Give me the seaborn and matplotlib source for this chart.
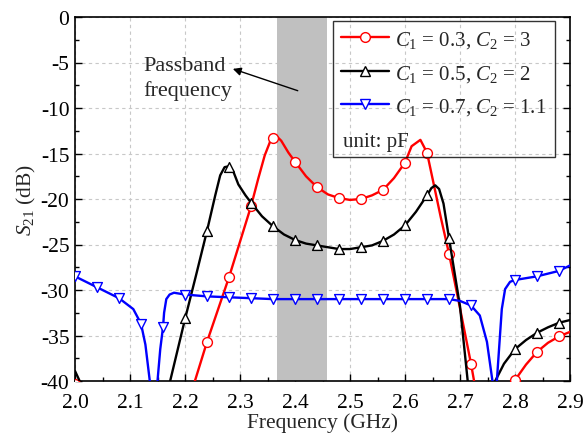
import numpy as np
import pandas as pd
import matplotlib
matplotlib.use("Agg")
import matplotlib.pyplot as plt
import seaborn as sns
from matplotlib.lines import Line2D
from matplotlib.ticker import MultipleLocator, FormatStrFormatter

# ---------------- data ----------------
series_labels = [r"$C_1$ = 0.3, $C_2$ = 3",
                 r"$C_1$ = 0.5, $C_2$ = 2",
                 r"$C_1$ = 0.7, $C_2$ = 1.1"]
series_colors = ["#ff0000", "#000000", "#0000ff"]
series_markers = ["o", "^", "v"]

# curve 1 (red) dense trace
red_f = [2.000, 2.030, 2.190, 2.218, 2.240, 2.280, 2.320, 2.333, 2.345, 2.356,
         2.365, 2.375, 2.388, 2.400, 2.420, 2.440, 2.460, 2.480, 2.500, 2.520,
         2.540, 2.560, 2.580, 2.600, 2.612, 2.628, 2.640, 2.652, 2.665, 2.680,
         2.700, 2.720, 2.730, 2.760, 2.790, 2.800, 2.820, 2.840, 2.860, 2.880, 2.900]
red_v = [-40.3, -48.0, -48.0, -40.0, -35.7, -28.6, -20.8, -17.8, -15.2, -13.5,
         -13.0, -13.6, -14.9, -15.9, -17.5, -18.7, -19.5, -19.9, -20.1, -20.0,
         -19.6, -19.0, -17.7, -16.0, -14.2, -13.5, -14.9, -18.3, -22.0, -26.0,
         -32.0, -38.1, -41.5, -50.0, -41.2, -39.9, -38.2, -36.8, -35.8, -35.1, -34.6]
red_mf = [2.00, 2.24, 2.28, 2.32, 2.36, 2.40, 2.44, 2.48, 2.52, 2.56, 2.60, 2.64,
          2.68, 2.72, 2.80, 2.84, 2.88]
red_mv = [-40.3, -35.7, -28.6, -20.8, -13.3, -15.9, -18.7, -19.9, -20.0, -19.0,
          -16.0, -14.9, -26.0, -38.1, -39.9, -36.8, -35.1]

# curve 2 (black)
blk_f = [2.000, 2.010, 2.030, 2.150, 2.173, 2.200, 2.220, 2.240, 2.255, 2.264,
         2.272, 2.280, 2.288, 2.297, 2.310, 2.320, 2.340, 2.360, 2.380, 2.400,
         2.420, 2.440, 2.460, 2.480, 2.500, 2.520, 2.540, 2.560, 2.580, 2.600,
         2.620, 2.640, 2.648, 2.655, 2.662, 2.670, 2.680, 2.700, 2.714, 2.730,
         2.750, 2.764, 2.780, 2.800, 2.820, 2.840, 2.860, 2.880, 2.900]
blk_v = [-38.9, -40.2, -46.0, -46.0, -40.0, -33.2, -28.4, -23.5, -19.6, -17.4,
         -16.5, -16.4, -17.0, -18.4, -19.6, -20.4, -21.9, -23.0, -23.9, -24.5,
         -24.9, -25.1, -25.3, -25.5, -25.5, -25.3, -25.1, -24.6, -23.9, -22.9,
         -21.4, -19.6, -18.8, -18.5, -18.9, -20.5, -24.3, -31.8, -40.0, -46.0,
         -46.0, -40.0, -38.1, -36.5, -35.5, -34.7, -34.1, -33.6, -33.3]
blk_mf = [2.20, 2.24, 2.28, 2.32, 2.36, 2.40, 2.44, 2.48, 2.52, 2.56, 2.60, 2.64,
          2.68, 2.80, 2.84, 2.88]
blk_mv = [-33.1, -23.5, -16.5, -20.4, -23.0, -24.5, -25.1, -25.5, -25.3, -24.6,
          -22.9, -19.6, -24.3, -36.5, -34.7, -33.6]

# curve 3 (blue)
blu_f = [2.000, 2.040, 2.080, 2.106, 2.120, 2.128, 2.136, 2.140, 2.145, 2.150,
         2.155, 2.160, 2.162, 2.166, 2.172, 2.180, 2.200, 2.240, 2.280, 2.320,
         2.360, 2.400, 2.440, 2.480, 2.520, 2.560, 2.600, 2.640, 2.680, 2.700,
         2.720, 2.736, 2.749, 2.759, 2.763, 2.767, 2.776, 2.782, 2.791, 2.800,
         2.840, 2.880, 2.900]
blu_v = [-28.5, -29.7, -30.9, -32.1, -33.7, -36.0, -40.0, -45.0, -45.0, -40.0,
         -36.5, -34.1, -32.5, -31.0, -30.5, -30.3, -30.5, -30.7, -30.8, -30.9,
         -31.0, -31.0, -31.0, -31.0, -31.0, -31.0, -31.0, -31.0, -31.0, -31.2,
         -31.7, -32.8, -35.7, -40.0, -45.0, -40.0, -32.1, -29.9, -29.1, -28.9,
         -28.5, -27.9, -27.3]
blu_mf = [2.00, 2.04, 2.08, 2.12, 2.16, 2.20, 2.24, 2.28, 2.32, 2.36, 2.40, 2.44,
          2.48, 2.52, 2.56, 2.60, 2.64, 2.68, 2.72, 2.80, 2.84, 2.88]
blu_mv = [-28.5, -29.7, -30.9, -33.7, -34.1, -30.5, -30.7, -30.8, -30.9, -31.0,
          -31.0, -31.0, -31.0, -31.0, -31.0, -31.0, -31.0, -31.0, -31.7, -28.9,
          -28.5, -27.9]

passband = [2.368, 2.459]
x_ticks = [2.0, 2.1, 2.2, 2.3, 2.4, 2.5, 2.6, 2.7, 2.8, 2.9]
y_ticks = [0, -5, -10, -15, -20, -25, -30, -35, -40]

# ---------------- style ----------------
sns.set_theme(style="ticks")
plt.rcParams["font.family"] = ["Liberation Serif", "DejaVu Serif"]
plt.rcParams["mathtext.fontset"] = "custom"
plt.rcParams["mathtext.rm"] = "Liberation Serif"
plt.rcParams["mathtext.it"] = "Liberation Serif:italic"
plt.rcParams["axes.unicode_minus"] = False

fig = plt.figure(figsize=(5.84, 4.35), dpi=100)
ax = fig.add_axes([75 / 584, 1 - 382 / 435, 495 / 584, 364 / 435])

ax.axvspan(passband[0], passband[1], color="#c0c0c0", zorder=1, lw=0)

lines = [(red_f, red_v, red_mf, red_mv),
         (blk_f, blk_v, blk_mf, blk_mv),
         (blu_f, blu_v, blu_mf, blu_mv)]
for i, (f, v, mf, mv) in enumerate(lines):
    df = pd.DataFrame({"f": f, "v": v})
    dm = pd.DataFrame({"f": mf, "v": mv})
    sns.lineplot(data=df, x="f", y="v", ax=ax, color=series_colors[i],
                 lw=1.7, estimator=None, sort=False, zorder=3 + i)
    sns.scatterplot(data=dm, x="f", y="v", ax=ax, marker=series_markers[i],
                    s=50, facecolor="white", edgecolor=series_colors[i],
                    linewidth=1.0, zorder=4 + i)

ax.set_xlim(2.0, 2.9)
ax.set_ylim(-40, 0)
ax.set_xticks(x_ticks)
ax.set_yticks(y_ticks)
ax.xaxis.set_major_formatter(FormatStrFormatter("%.1f"))
ax.xaxis.set_minor_locator(MultipleLocator(0.05))
ax.yaxis.set_minor_locator(MultipleLocator(2.5))
ax.grid(True, which="major", ls=(0, (3, 3)), color="#c8c8c8", lw=0.8, zorder=0)
ax.set_axisbelow(True)
for s in ax.spines.values():
    s.set_color("black")
    s.set_linewidth(1.2)
ax.tick_params(which="both", direction="in", right=True, top=False,
               colors="black", labelsize=15.5, width=1.0)
ax.tick_params(which="major", length=5)
ax.tick_params(which="minor", length=3)
ax.tick_params(axis="x", which="both", pad=9)
ax.tick_params(axis="y", which="both", pad=4)
ax.set_xlabel("Frequency (GHz)", fontsize=15.5, labelpad=0)
ax.set_ylabel(r"$S_{21}$ (dB)", fontsize=15.5, labelpad=2)

# annotation
ax.text(2.124, -4.3, "Passband\nfrequency", fontsize=16, ha="left", va="top",
        linespacing=1.3, zorder=10)
ax.annotate("", xy=(2.287, -5.7), xytext=(2.405, -8.1),
            arrowprops=dict(arrowstyle="-|>", color="black", lw=1.0,
                            mutation_scale=12, shrinkA=0, shrinkB=0), zorder=10)

# legend
handles = [Line2D([], [], color=series_colors[i], lw=1.7, marker=series_markers[i],
                  ms=7, mfc="white", mec=series_colors[i], mew=1.0)
           for i in range(3)]
handles.append(Line2D([], [], alpha=0))
leg = ax.legend(handles, series_labels + [" "], loc="upper left",
                bbox_to_anchor=(0.521, 0.989), borderaxespad=0, fontsize=15,
                frameon=True, fancybox=False, edgecolor="black",
                handlelength=2.3, handletextpad=0.3, labelspacing=0.6,
                borderpad=0.4)
leg.get_frame().set_facecolor("none")
leg.get_frame().set_linewidth(1.0)
leg.set_zorder(20)
ax.text(2.487, -13.7, "unit: pF", fontsize=15, ha="left", va="center", zorder=20)

fig.savefig("out.png", dpi=100)
